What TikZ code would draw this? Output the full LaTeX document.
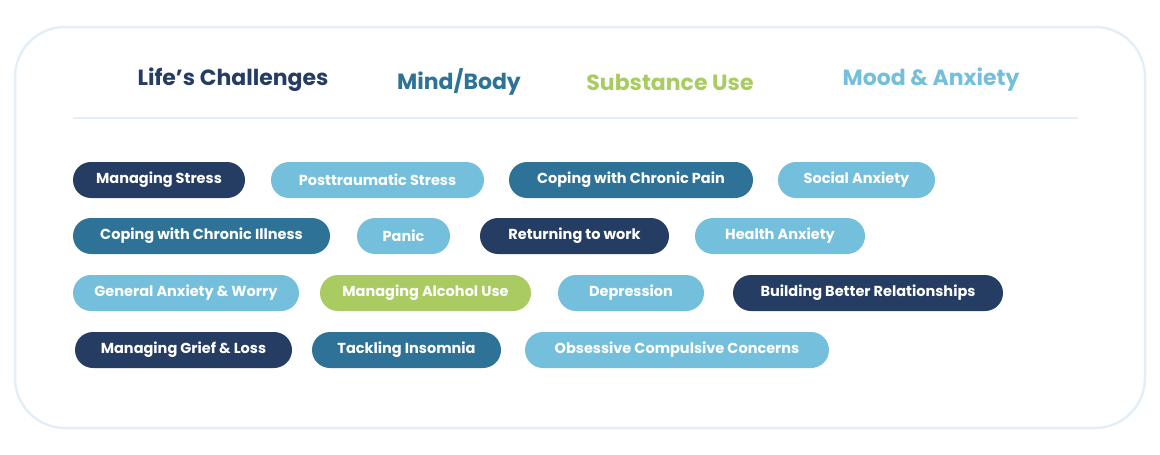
\documentclass[tikz,border=0pt]{standalone}
\usepackage{fontspec}
\setmainfont{Poppins}
\definecolor{navy}{HTML}{253D63}
\definecolor{teal}{HTML}{2E7397}
\definecolor{lblue}{HTML}{74BFDC}
\definecolor{lgreen}{HTML}{A9CB62}
\definecolor{frame}{HTML}{E3EEF6}
\tikzset{
 pill/.style={rounded corners=18pt,minimum height=36pt,text=white,font=\fontsize{14.5}{16}\selectfont\bfseries,inner sep=0pt},
 pn/.style={pill,fill=navy},pt/.style={pill,fill=teal},pl/.style={pill,fill=lblue},pg/.style={pill,fill=lgreen},
 head/.style={font=\fontsize{22}{26}\selectfont\bfseries}
}
\newcommand{\pillat}[6]{\node[#1,minimum width=#3pt-#2pt] (#6) at ({(#2+#3)/2},#4) {#5};}
\begin{document}
\begin{tikzpicture}[x=1pt,y=-1pt]
\useasboundingbox (0,0) rectangle (1160,455);
\draw[frame,line width=2.5pt,rounded corners=50pt] (15,27) rectangle (1145,428);
\node[head,text=navy] (h1) at (233,80) {Life's Challenges};
\node[head,text=teal] (h2) at (459,82) {Mind/Body};
\node[head,text=lgreen] (h3) at (670,82) {Substance Use};
\node[head,text=lblue] (h4) at (931,80) {Mood \& Anxiety};
\draw[frame,line width=2pt] (73,118) -- (1078,118);
\pillat{pn}{73}{245}{180}{Managing Stress}{a1}
\pillat{pl}{271}{484}{180}{Posttraumatic Stress}{a2}
\pillat{pt}{509}{753}{180}{Coping with Chronic Pain}{a3}
\pillat{pl}{778}{935}{180}{Social Anxiety}{a4}
\pillat{pt}{73}{330}{236}{Coping with Chronic Illness}{b1}
\pillat{pl}{357}{450}{236}{Panic}{b2}
\pillat{pn}{480}{669}{236}{Returning to work}{b3}
\pillat{pl}{695}{865}{236}{Health Anxiety}{b4}
\pillat{pl}{73}{299}{293}{General Anxiety \& Worry}{c1}
\pillat{pg}{320}{531}{293}{Managing Alcohol Use}{c2}
\pillat{pl}{558}{704}{293}{Depression}{c3}
\pillat{pn}{733}{1003}{293}{Building Better Relationships}{c4}
\pillat{pn}{75}{292}{350}{Managing Grief \& Loss}{d1}
\pillat{pt}{312}{501}{350}{Tackling Insomnia}{d2}
\pillat{pl}{525}{829}{350}{Obsessive Compulsive Concerns}{d3}
\end{tikzpicture}
\end{document}
